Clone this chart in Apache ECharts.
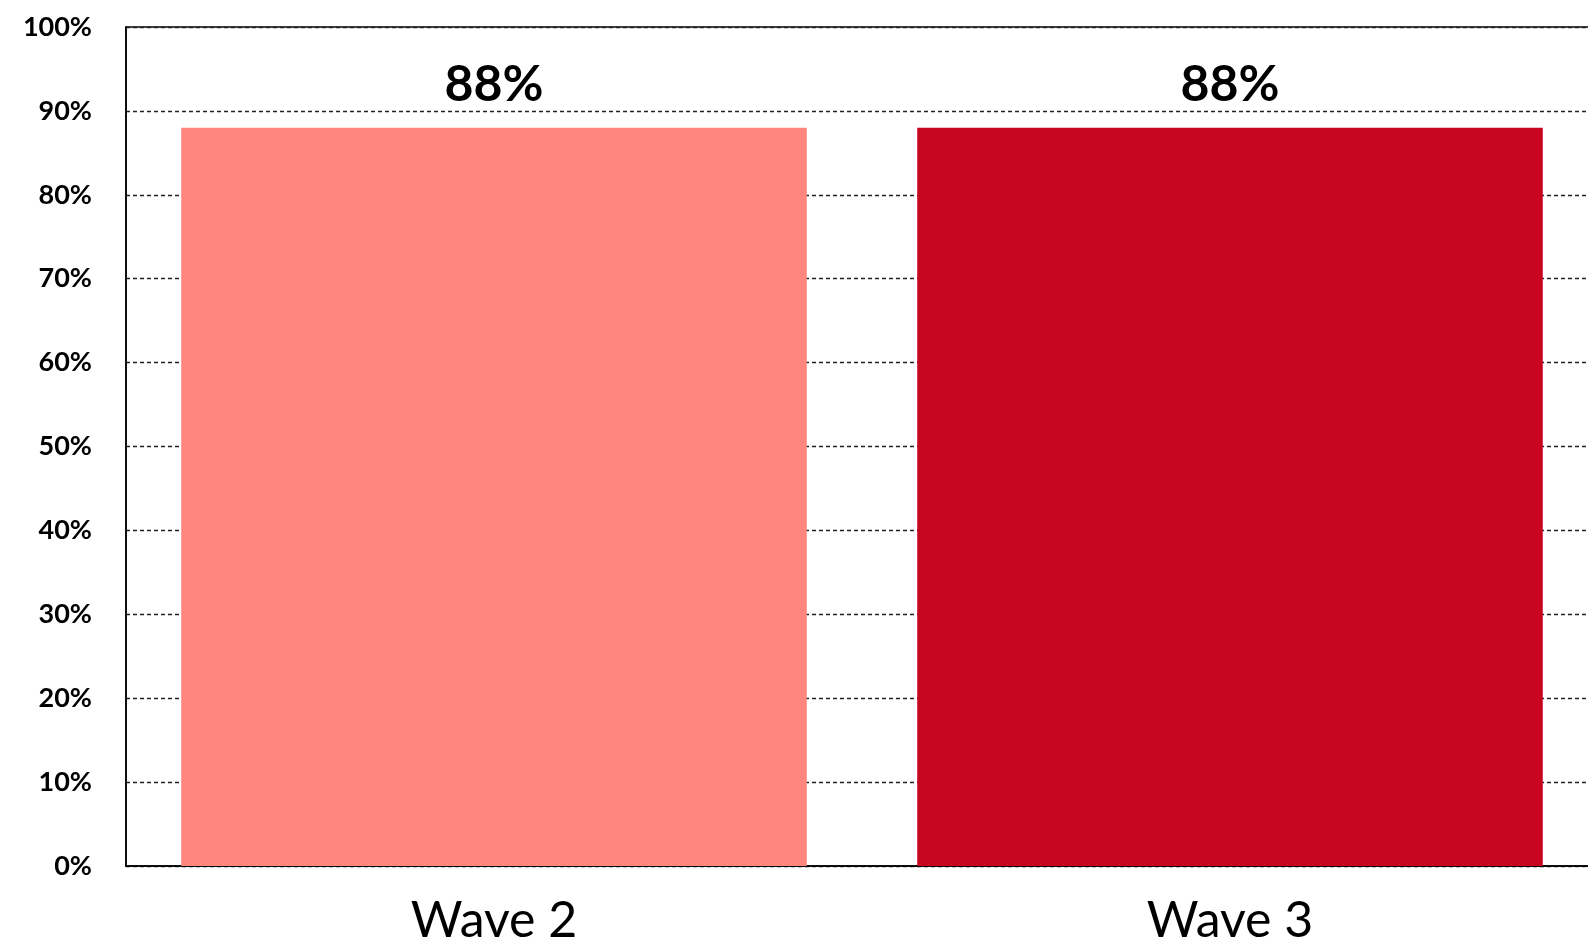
<!DOCTYPE html>
<html>
<head>
<meta charset="utf-8">
<script src="https://cdn.jsdelivr.net/npm/echarts@6/dist/echarts.min.js"></script>
<style>html,body{margin:0;padding:0;background:#fff;}#c{width:1588px;height:945px;}</style>
</head>
<body>
<div id="c"></div>
<script>
const categories = ['Wave 2', 'Wave 3'];
const values = [88, 88];
const barColors = ['#FF877D', '#C80620'];
const yTicks = [0, 10, 20, 30, 40, 50, 60, 70, 80, 90, 100];

const chart = echarts.init(document.getElementById('c'));
chart.setOption({
  animation: false,
  backgroundColor: '#fff',
  grid: { left: 126, top: 27, bottom: 79, width: 1472, outerBoundsMode: 'none', containLabel: false, show: true, borderColor: '#000', borderWidth: 1.5, backgroundColor: 'transparent' },
  xAxis: {
    type: 'category',
    data: categories,
    axisLine: { show: true, lineStyle: { color: '#000', width: 1.5 } },
    axisTick: { show: false },
    axisLabel: { fontFamily: 'Lato', fontSize: 50, color: '#000', margin: 30 }
  },
  yAxis: {
    type: 'value',
    min: yTicks[0],
    max: yTicks[yTicks.length - 1],
    interval: 10,
    axisLine: { show: true, lineStyle: { color: '#000', width: 1.5 } },
    axisTick: { show: false },
    axisLabel: { fontFamily: 'Lato', fontWeight: 'bold', fontSize: 27, color: '#000', margin: 34, formatter: '{value}%' },
    splitLine: { show: true, lineStyle: { color: '#222', width: 1.4, type: [4, 3] } }
  },
  series: [{
    type: 'bar',
    data: values.map((v, i) => ({ value: v, itemStyle: { color: barColors[i] } })),
    barWidth: '85%',
    label: { show: true, position: 'top', distance: 18, formatter: '{c}%', fontFamily: 'Lato', fontWeight: 'bold', fontSize: 50, color: '#000' }
  }]
});
</script>
</body>
</html>
